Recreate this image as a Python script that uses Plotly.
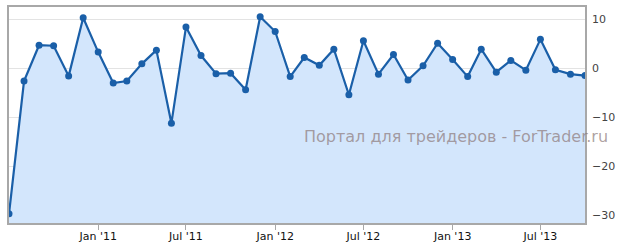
import plotly.graph_objects as go
import pandas as pd

dates = pd.date_range("2010-07-01", "2013-10-01", freq="MS").strftime("%Y-%m-%d").tolist()
values = [
    -29.7, -2.6, 4.7, 4.6, -1.6, 10.3,
    3.3, -3.0, -2.6, 0.9, 3.7, -11.2, 8.4, 2.6, -1.1, -1.0, -4.4, 10.5,
    7.5, -1.7, 2.2, 0.6, 3.9, -5.4, 5.6, -1.2, 2.8, -2.4, 0.5, 5.1,
    1.8, -1.7, 3.9, -0.8, 1.6, -0.4, 5.9, -0.3, -1.2, -1.5,
]
tick_vals = ["2011-01-01", "2011-07-01", "2012-01-01", "2012-07-01", "2013-01-01", "2013-07-01"]
tick_text = ["Jan '11", "Jul '11", "Jan '12", "Jul '12", "Jan '13", "Jul '13"]
y_ticks = [10, 0, -10, -20, -30]
y_min, y_max = -31.57, 12.5
watermark = "Портал для трейдеров - ForTrader.ru"

fig = go.Figure()
fig.add_trace(go.Scatter(
    x=dates, y=[y_min] * len(dates), mode="lines",
    line=dict(width=0, color="rgba(0,0,0,0)"), hoverinfo="skip", showlegend=False,
))
fig.add_trace(go.Scatter(
    x=dates, y=values, mode="lines+markers", fill="tonexty",
    fillcolor="#d3e6fc",
    line=dict(color="#1a5fa8", width=2.2),
    marker=dict(color="#1a5fa8", size=7),
    showlegend=False,
))

fig.update_layout(
    width=617, height=249,
    margin=dict(l=9, r=32, t=7, b=26),
    paper_bgcolor="white", plot_bgcolor="white",
    font=dict(family="DejaVu Sans", size=11, color="#333"),
    xaxis=dict(
        range=[dates[0], dates[-1]],
        tickvals=tick_vals, ticktext=tick_text,
        ticks="outside", ticklen=5, tickcolor="#a8a8a8",
        ticklabelstandoff=-3,
        showgrid=False, showline=True, linecolor="#a8a8a8", linewidth=1.5,
        mirror=True, zeroline=False, automargin=False,
        tickfont=dict(size=11, color="#111"),
    ),
    yaxis=dict(
        range=[y_min, y_max], side="right",
        tickvals=y_ticks, ticks="", ticklabelstandoff=3,
        showgrid=True, gridcolor="rgba(200,200,200,0.5)", gridwidth=1,
        showline=True, linecolor="#a8a8a8", linewidth=1.5, mirror=True,
        zeroline=False, layer="above traces", automargin=False,
        tickfont=dict(size=11, color="#444"),
    ),
    annotations=[dict(
        text=watermark, xref="paper", yref="paper",
        x=0.508, y=0.40, xanchor="left", yanchor="middle",
        showarrow=False,
        font=dict(family="DejaVu Sans", size=16, color="rgba(140,120,120,0.7)"),
    )],
)

fig.write_html("out.html")
